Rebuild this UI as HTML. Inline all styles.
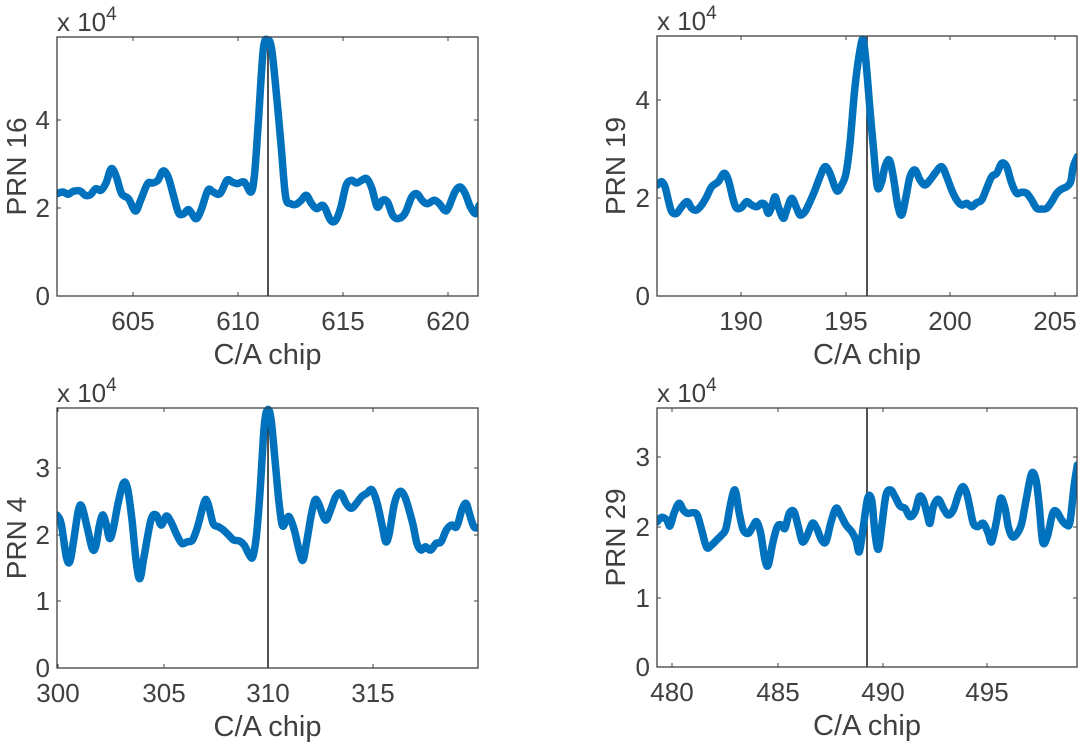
<!DOCTYPE html>
<html><head><meta charset="utf-8"><style>
html,body{margin:0;padding:0;background:#fff;}
svg{display:block;font-family:"Liberation Sans",Arial,sans-serif;}
</style></head><body>
<svg id="s" width="1080" height="751" viewBox="0 0 1080 751" xmlns="http://www.w3.org/2000/svg"></svg>
<script>
const S=document.getElementById('s');
let h='';
function smooth(pts){
  let d='M'+pts[0][0].toFixed(1)+','+pts[0][1].toFixed(1);
  for(let i=0;i<pts.length-1;i++){
    const p0=pts[Math.max(0,i-1)],p1=pts[i],p2=pts[i+1],p3=pts[Math.min(pts.length-1,i+2)];
    const c1=[p1[0]+(p2[0]-p0[0])/6,p1[1]+(p2[1]-p0[1])/6];
    const c2=[p2[0]-(p3[0]-p1[0])/6,p2[1]-(p3[1]-p1[1])/6];
    d+=' C'+c1[0].toFixed(1)+','+c1[1].toFixed(1)+' '+c2[0].toFixed(1)+','+c2[1].toFixed(1)+' '+p2[0].toFixed(1)+','+p2[1].toFixed(1);
  }
  return d;
}
function axes(o){
  const {L,R,T,B,id}=o;
  h+=`<clipPath id="c${id}"><rect x="${L}" y="${T-3}" width="${R-L}" height="${B-T+3}"/></clipPath>`;
  o.xt.forEach(t=>{h+=`<line x1="${t[0]}" y1="${B}" x2="${t[0]}" y2="${B-4}" stroke="#404040"/><line x1="${t[0]}" y1="${T}" x2="${t[0]}" y2="${T+4}" stroke="#404040"/>`;
    h+=`<text x="${t[0]}" y="${B+34}" font-size="26" fill="#404040" text-anchor="middle">${t[1]}</text>`;});
  o.yt.forEach(t=>{h+=`<line x1="${L}" y1="${t[0]}" x2="${L+4}" y2="${t[0]}" stroke="#404040"/><line x1="${R}" y1="${t[0]}" x2="${R-4}" y2="${t[0]}" stroke="#404040"/>`;
    h+=`<text x="${L-7}" y="${t[0]+9}" font-size="26" fill="#404040" text-anchor="end">${t[1]}</text>`;});
  h+=`<line x1="${o.vx}" y1="${T}" x2="${o.vx}" y2="${B}" stroke="#262626" stroke-width="1.6"/>`;
  h+=`<path d="${smooth(o.pts)}" fill="none" stroke="#0072BD" stroke-width="7.5" stroke-linejoin="round" stroke-linecap="round" clip-path="url(#c${id})"/>`;
  h+=`<rect x="${L}" y="${T}" width="${R-L}" height="${B-T}" fill="none" stroke="#404040" stroke-width="1.3"/>`;
  h+=`<text x="${L}" y="${T-6}" font-size="26" fill="#404040">x 10<tspan dy="-11" font-size="19">4</tspan></text>`;
  h+=`<text x="${(L+R)/2}" y="${B+68}" font-size="29" fill="#404040" text-anchor="middle">C/A chip</text>`;
  h+=`<text transform="translate(${o.yl},${(T+B)/2}) rotate(-90)" font-size="28" fill="#404040" text-anchor="middle">${o.lab}</text>`;
}
const tl=[[168,580],[185,575],[200,582],[215,573],[235,572],[250,585],[265,583],[280,565],[295,570],[310,548],[325,505],[340,530],[355,580],[375,595],[395,632],[410,600],[430,550],[445,548],[460,540],[475,512],[490,530],[505,585],[520,638],[535,640],[550,628],[570,655],[585,630],[605,570],[620,575],[640,580],[660,540],[675,545],[690,550],[710,545],[730,575],[740,520],[750,380],[765,150],[778,118],[790,150],[805,300],[818,450],[830,590],[845,610],[860,612],[875,600],[890,585],[905,610],[920,625],[935,615],[945,625],[960,660],[975,660],[990,620],[1005,555],[1020,540],[1035,548],[1050,540],[1065,535],[1080,565],[1095,620],[1110,600],[1125,605],[1140,645],[1155,655],[1175,640],[1195,590],[1210,580],[1225,600],[1240,610],[1260,600],[1275,610],[1290,630],[1300,625],[1320,575],[1335,560],[1350,580],[1365,620],[1380,640],[1390,615]].map(p=>[57+(p[0]-168)*0.3454,37+(p[1]-110)/3]);
const bl=[[168,435],[180,460],[195,560],[205,575],[215,520],[230,420],[240,410],[255,470],[270,535],[280,530],[290,470],[300,435],[310,460],[320,505],[330,480],[345,400],[360,340],[372,355],[385,450],[398,580],[408,625],[420,560],[440,450],[455,435],[470,465],[485,438],[500,460],[515,495],[530,520],[545,515],[560,510],[575,470],[595,395],[605,400],[620,460],[635,470],[650,480],[665,495],[680,510],[695,512],[710,525],[725,555],[735,560],[745,500],[755,380],[768,170],[778,120],[788,150],[800,280],[810,390],[820,465],[830,455],[840,440],[855,480],[870,545],[880,570],[890,520],[905,430],[915,390],[925,400],[945,450],[960,420],[975,380],[990,370],[1005,400],[1020,415],[1035,400],[1050,380],[1065,370],[1080,360],[1095,400],[1110,470],[1120,515],[1130,490],[1145,400],[1160,365],[1175,380],[1190,430],[1200,470],[1210,520],[1222,540],[1235,530],[1250,540],[1265,520],[1280,515],[1295,480],[1310,465],[1325,470],[1340,420],[1352,400],[1362,430],[1375,470],[1390,472]].map(p=>[57+(p[0]-168)*0.3454,408+(p[1]-115)/2.99]);
const tr=[[172,495],[185,485],[195,500],[205,540],[215,575],[230,580],[245,560],[262,545],[275,565],[290,570],[305,555],[320,530],[335,500],[355,485],[372,460],[385,480],[400,540],[410,565],[425,562],[440,545],[455,555],[470,560],[485,550],[495,555],[505,580],[515,560],[525,530],[535,560],[550,595],[560,570],[575,535],[590,565],[600,585],[615,575],[630,545],[645,510],[660,470],[675,440],[690,460],[710,512],[725,495],[738,460],[750,370],[765,200],[780,90],[790,60],[800,150],[810,270],[820,380],[832,500],[845,485],[855,440],[868,420],[880,470],[893,555],[905,585],[918,530],[930,470],[945,450],[960,480],[975,495],[990,480],[1005,460],[1025,440],[1040,470],[1055,510],[1070,540],[1085,555],[1100,550],[1115,560],[1130,548],[1145,540],[1160,505],[1175,470],[1190,460],[1205,430],[1220,440],[1235,490],[1250,520],[1265,517],[1280,520],[1295,540],[1310,565],[1325,567],[1340,565],[1355,545],[1370,520],[1385,507],[1400,500],[1412,485],[1420,440],[1432,410]].map(p=>[600+p[0]/3,20+p[1]/3]);
const br=[[172,425],[185,412],[200,420],[210,438],[222,400],[237,370],[250,390],[262,400],[280,398],[292,405],[305,450],[320,502],[335,495],[350,480],[365,465],[378,445],[392,370],[405,330],[418,400],[430,450],[445,460],[458,440],[470,425],[482,460],[495,540],[505,555],[518,490],[532,440],[545,435],[555,445],[568,400],[582,395],[595,440],[607,485],[620,470],[637,430],[650,445],[665,480],[678,485],[692,430],[708,385],[722,405],[738,435],[755,455],[768,480],[778,515],[790,440],[803,355],[815,360],[825,460],[835,508],[845,440],[858,345],[872,330],[885,350],[900,378],[915,385],[930,410],[945,395],[958,350],[970,360],[982,405],[990,430],[1000,380],[1015,358],[1030,385],[1045,405],[1060,390],[1075,345],[1088,320],[1100,340],[1110,385],[1120,430],[1133,440],[1150,430],[1165,460],[1175,485],[1190,420],[1202,355],[1215,385],[1225,440],[1237,470],[1252,460],[1265,430],[1280,350],[1295,280],[1308,300],[1318,380],[1328,485],[1342,470],[1358,400],[1370,395],[1385,420],[1400,435],[1410,425],[1422,320],[1432,255]].map(p=>[600+p[0]/3,380+p[1]/3]);
axes({id:1,L:57,R:478,T:37,B:296,xt:[[133,605],[238,610],[343,615],[448,620]],yt:[[296,0],[208,2],[120,4]],vx:268,pts:tl,lab:'PRN 16',yl:26});
axes({id:2,L:657,R:1077,T:36,B:296,xt:[[741,190],[846,195],[950,200],[1055,205]],yt:[[296,0],[198,2],[100,4]],vx:867,pts:tr,lab:'PRN 19',yl:625});
axes({id:3,L:57,R:478,T:408,B:668,xt:[[58,300],[164,305],[268,310],[373,315]],yt:[[668,0],[601,1],[535,2],[468,3]],vx:268,pts:bl,lab:'PRN 4',yl:26});
axes({id:4,L:657,R:1077,T:408,B:667,xt:[[672,480],[778,485],[883,490],[987,495]],yt:[[667,0],[598,1],[527,2],[457,3]],vx:867,pts:br,lab:'PRN 29',yl:625});
S.innerHTML=h;
</script>
</body></html>
